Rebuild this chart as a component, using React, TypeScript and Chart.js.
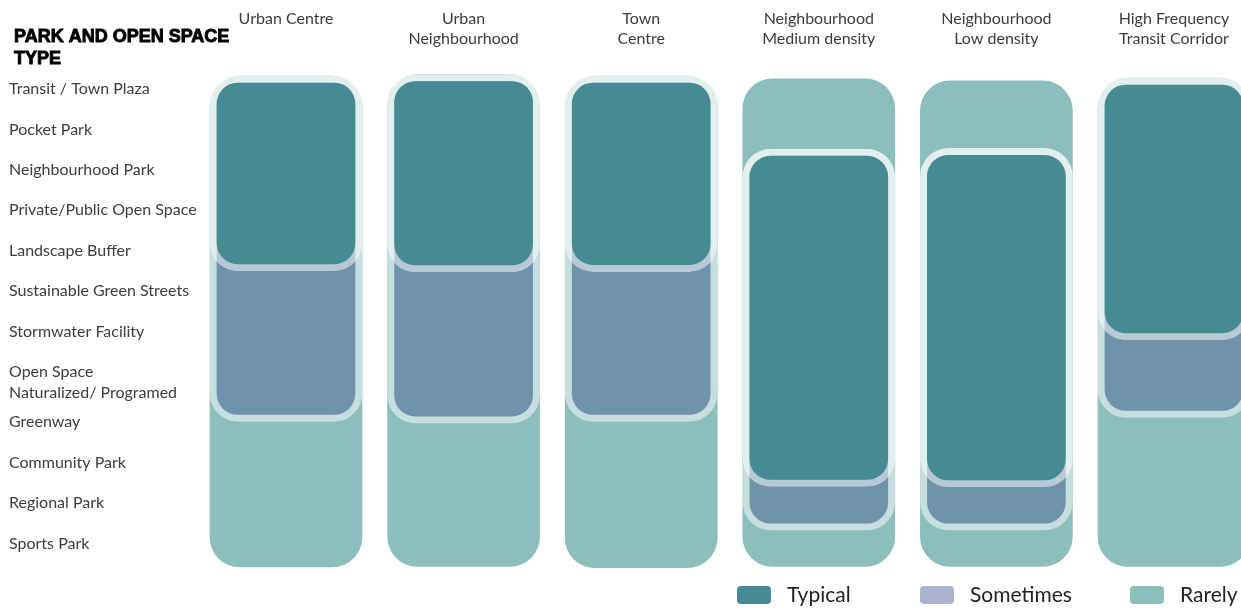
import React, { useEffect, useRef } from "react";
import { Chart, registerables } from "chart.js";

Chart.register(...registerables);

// ---------- data ----------
const titleLines = ["PARK AND OPEN SPACE", "TYPE"];

const columnLabels: string[][] = [
  ["Urban Centre"],
  ["Urban", "Neighbourhood"],
  ["Town", "Centre"],
  ["Neighbourhood", "Medium density"],
  ["Neighbourhood", "Low density"],
  ["High Frequency", "Transit Corridor"],
];

const parkTypes: (string | string[])[] = [
  "Transit / Town Plaza",
  "Pocket Park",
  "Neighbourhood Park",
  "Private/Public Open Space",
  "Landscape Buffer",
  "Sustainable Green Streets",
  "Stormwater Facility",
  ["Open Space", "Naturalized/ Programed"],
  "Greenway",
  "Community Park",
  "Regional Park",
  "Sports Park",
];

// row positions of the park types on the value axis (row units)
const rowTicks = [0, 1, 2, 3, 4, 5, 6, 7.25, 8.25, 9.25, 10.25, 11.25];

const seriesNames = ["Typical", "Sometimes", "Rarely"];

// floating ranges [from, to] in row units, one per column
const typicalRanges: number[][] = [
  [-0.32, 4.5],
  [-0.36, 4.53],
  [-0.32, 4.52],
  [1.49, 9.84],
  [1.47, 9.85],
  [-0.27, 6.21],
];
const sometimesRanges: number[][] = [
  [-0.32, 8.23],
  [-0.36, 8.27],
  [-0.32, 8.23],
  [1.49, 10.92],
  [1.47, 10.92],
  [-0.27, 8.13],
];
const rarelyRanges: number[][] = [
  [-0.32, 11.83],
  [-0.36, 11.82],
  [-0.32, 11.85],
  [-0.25, 11.82],
  [-0.2, 11.82],
  [-0.27, 11.82],
];

// ---------- styles ----------
const FONT = 'Lato, "Open Sans", "DejaVu Sans", sans-serif';
const TEXT = "#3c3c3c";
const barColors = ["#468B94", "#6F93AB", "#8CBFBC"];
const legendColors = ["#468B94", "#AAB4D0", "#8CBFBC"];

const titlePlugin = {
  id: "sideTitle",
  afterDraw(chart: any) {
    const ctx = chart.ctx;
    ctx.save();
    ctx.font = 'bold 18px "Liberation Sans", Arial, sans-serif';
    ctx.fillStyle = "#000";
    ctx.textAlign = "left";
    ctx.textBaseline = "middle";
    ctx.lineWidth = 0.9;
    ctx.strokeStyle = "#000";
    titleLines.forEach((t, i) => {
      ctx.fillText(t, 14, 37 + i * 22);
      ctx.strokeText(t, 14, 37 + i * 22);
    });
    ctx.restore();
  },
};

const legendPlugin = {
  id: "customLegend",
  afterDraw(chart: any) {
    const ctx = chart.ctx;
    const xs = [737, 920, 1130];
    ctx.save();
    chart.data.datasets.forEach((ds: any, i: number) => {
      const x = xs[i];
      ctx.fillStyle = legendColors[i];
      ctx.beginPath();
      (ctx as any).roundRect(x, 586, 34, 18, 4);
      ctx.fill();
      ctx.fillStyle = "#222";
      ctx.font = `21px ${FONT}`;
      ctx.textAlign = "left";
      ctx.textBaseline = "middle";
      ctx.fillText(ds.label, x + 50, 595);
    });
    ctx.restore();
  },
};

export default function App() {
  const ref = useRef<HTMLCanvasElement | null>(null);

  useEffect(() => {
    if (!ref.current) return;
    const rangesList = [typicalRanges, sometimesRanges, rarelyRanges];
    const chart = new Chart(ref.current, {
      type: "bar",
      data: {
        datasets: seriesNames.map((name, si) => ({
          label: name,
          data: rangesList[si].map((r, i) => ({ x: i, y: r })) as any,
          backgroundColor: barColors[si],
          borderColor: "rgba(255,255,255,0.5)",
          borderWidth: si === 2 ? 0 : 7,
          borderRadius: si === 2 ? 30 : 28,
          borderSkipped: false,
          barThickness: 152,
          grouped: false,
        })),
      },
      options: {
        animation: false,
        responsive: false,
        layout: { padding: { left: 9, right: 0, top: 0, bottom: 0 } },
        plugins: {
          legend: { display: false },
          tooltip: { enabled: false },
        },
        scales: {
          x: {
            type: "linear",
            position: "top",
            min: -0.4842,
            max: 5.3773,
            offset: false,
            grid: { display: false, drawTicks: false },
            border: { display: false },
            afterBuildTicks: (s: any) => {
              s.ticks = columnLabels.map((_, i) => ({ value: i }));
            },
            afterFit: (s: any) => {
              s.height = 68;
              s.paddingLeft = 0;
              s.paddingRight = 0;
              s.paddingTop = 0;
              s.paddingBottom = 0;
            },
            ticks: {
              autoSkip: false,
              maxRotation: 0,
              minRotation: 0,
              crossAlign: "far",
              padding: 19,
              color: TEXT,
              font: { family: FONT, size: 16, lineHeight: "20px" },
              callback: (_v: any, i: number) => columnLabels[i],
            },
          },
          y: {
            type: "linear",
            reverse: true,
            min: -0.5198,
            max: 12.8465,
            grid: { display: false, drawTicks: false },
            border: { display: false },
            afterBuildTicks: (s: any) => {
              s.ticks = rowTicks.map((v) => ({ value: v }));
            },
            afterFit: (s: any) => {
              s.width = 191;
              s.paddingLeft = 0;
              s.paddingRight = 0;
              s.paddingTop = 0;
              s.paddingBottom = 0;
            },
            ticks: {
              autoSkip: false,
              crossAlign: "far",
              padding: 0,
              color: TEXT,
              font: { family: FONT, size: 16, lineHeight: "21px" },
              callback: (_v: any, i: number) => parkTypes[i],
            },
          },
        },
      } as any,
      plugins: [titlePlugin, legendPlugin],
    });
    return () => chart.destroy();
  }, []);

  return (
    <div style={{ position: "fixed", left: 0, top: 0, width: 1241, height: 608, background: "#fff" }}>
      <canvas ref={ref} width={1241} height={608} style={{ display: "block" }} />
    </div>
  );
}
